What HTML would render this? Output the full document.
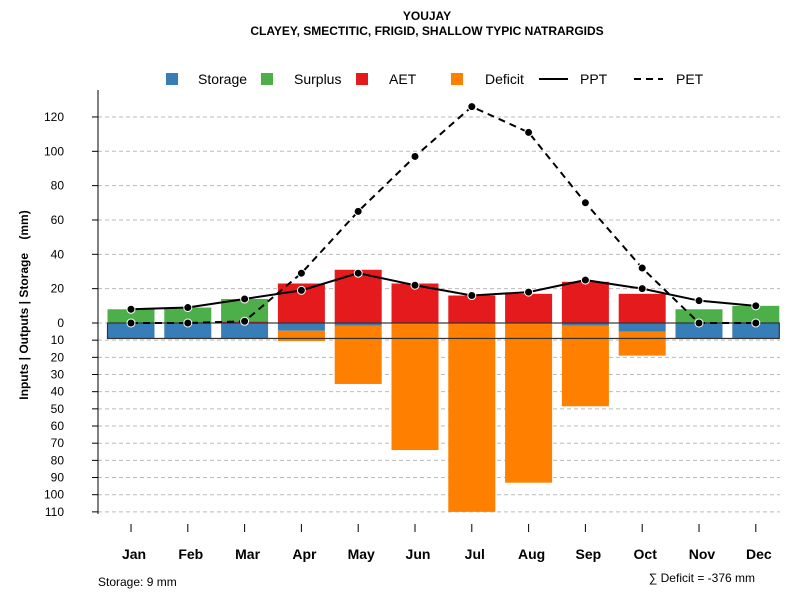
<!DOCTYPE html>
<html><head><meta charset="utf-8"><style>
body{margin:0;background:#fff;font-family:"Liberation Sans",Arial,sans-serif}
svg text{font-family:"Liberation Sans",Arial,sans-serif}
</style></head><body>
<svg id="c" width="800" height="600" xmlns="http://www.w3.org/2000/svg">
<text x="427" y="20" text-anchor="middle" font-size="12" font-weight="bold">YOUJAY</text>
<text x="427" y="35" text-anchor="middle" font-size="12" font-weight="bold">CLAYEY, SMECTITIC, FRIGID, SHALLOW TYPIC NATRARGIDS</text>
<g id="grid"></g>
<g id="bars"></g>
<g id="lines"></g>
<g id="axes"></g>
<g font-size="14">
<rect x="166" y="73" width="12" height="12" fill="#377eb8"/><text x="198" y="84">Storage</text>
<rect x="261" y="73" width="12" height="12" fill="#4daf4a"/><text x="294" y="84">Surplus</text>
<rect x="356" y="73" width="12" height="12" fill="#e41a1c"/><text x="389" y="84">AET</text>
<rect x="451" y="73" width="12" height="12" fill="#ff7f00"/><text x="485" y="84">Deficit</text>
<line x1="539" y1="79" x2="568" y2="79" stroke="#000" stroke-width="2"/><text x="580" y="84">PPT</text>
<line x1="634" y1="79" x2="663" y2="79" stroke="#000" stroke-width="2" stroke-dasharray="7,5"/><text x="676" y="84">PET</text>
</g>
<text x="28" y="305" transform="rotate(-90 28 305)" text-anchor="middle" font-size="12" font-weight="bold" xml:space="preserve" style="white-space:pre">Inputs | Outputs | Storage    (mm)</text>
<text x="98" y="586" font-size="12">Storage: 9 mm</text>
<text x="755" y="582" text-anchor="end" font-size="12">∑ Deficit = -376 mm</text>
</svg>
<script>
const months=["Jan","Feb","Mar","Apr","May","Jun","Jul","Aug","Sep","Oct","Nov","Dec"];
const storage=[9,9,9,4.5,1.5,0,0,0,1.5,5,9,9];
const surplus=[8,9,13,0,0,0,0,0,0,0,8,10];
const aet=[0,0,1,23,31,23,16,17,24,17,0,0];
const deficit=[0,0,0,6,34,74,110,93,47,14,0,0];
const ppt=[8,9,14,19,29,22,16,18,25,20,13,10];
const pet=[0,0,1,29,65,97,126,111,70,32,0,0];
const posTicks=[0,20,40,60,80,100,120];
const negTicks=[10,20,30,40,50,60,70,80,90,100,110];
const capacity=9;
const NS="http://www.w3.org/2000/svg";
const y0=323,k=1.717;
function yv(v){return y0-v*k;}
function xm(i){return 131+i*56.8;}
const bw=47;
function mk(t,a,p){const e=document.createElementNS(NS,t);for(const q in a)e.setAttribute(q,a[q]);p.appendChild(e);return e;}
const G=document.getElementById('grid'),B=document.getElementById('bars'),L=document.getElementById('lines'),A=document.getElementById('axes');
posTicks.concat(negTicks.map(v=>-v)).forEach(v=>{
 const l=mk('line',{x1:98,x2:780,y1:yv(v),y2:yv(v),stroke:'#bbb','stroke-dasharray':'4,3'},G);
 
 
 const t=mk('line',{x1:92,x2:98,y1:yv(v),y2:yv(v),stroke:'#000'},A);
 
 
 const tx=mk('text',{x:64,y:yv(v)+4,'text-anchor':'end','font-size':12},A);
 tx.textContent=Math.abs(v);
 
 
});
const ax=mk('line',{x1:98,x2:98,y1:90,y2:514,stroke:'#000'},A);


months.forEach((m,i)=>{
 const x=xm(i);
 const t=mk('line',{x1:x,x2:x,y1:524,y2:532,stroke:'#000'},A);
 
 
 const tx=mk('text',{x:x+3,y:559,'text-anchor':'middle','font-size':14,'font-weight':'bold'},A);
 tx.textContent=m;
 
 
 function bar(top,bot,col,name){if(bot-top<=0)return;const r=mk('rect',{x:x-bw/2,y:top,width:bw,height:bot-top,fill:col},B);
  
  }
 bar(yv(aet[i]),yv(0),'#e41a1c','bar-aet');
 bar(yv(aet[i]+surplus[i]),yv(aet[i]),'#4daf4a','bar-surplus');
 bar(yv(0),yv(-storage[i]),'#377eb8','bar-storage');
 bar(yv(-storage[i]),yv(-storage[i]-deficit[i]),'#ff7f00','bar-deficit');
});
const box=mk('rect',{x:xm(0)-bw/2,y:yv(0),width:xm(11)+bw/2-(xm(0)-bw/2),height:capacity*k,fill:'none',stroke:'#333','stroke-width':1.2},B);


function series(arr,dash,name){
 const p=mk('polyline',{points:arr.map((v,i)=>xm(i)+','+yv(v)).join(' '),fill:'none',stroke:'#000','stroke-width':2,'stroke-dasharray':dash},L);
 
 
 arr.forEach((v,i)=>{const c=mk('circle',{cx:xm(i),cy:yv(v),r:4,fill:'#000',stroke:'#fff','stroke-width':1},L);
  
  });
}
series(pet,'7,5','pet');
series(ppt,'none','ppt');
</script>
</body></html>
